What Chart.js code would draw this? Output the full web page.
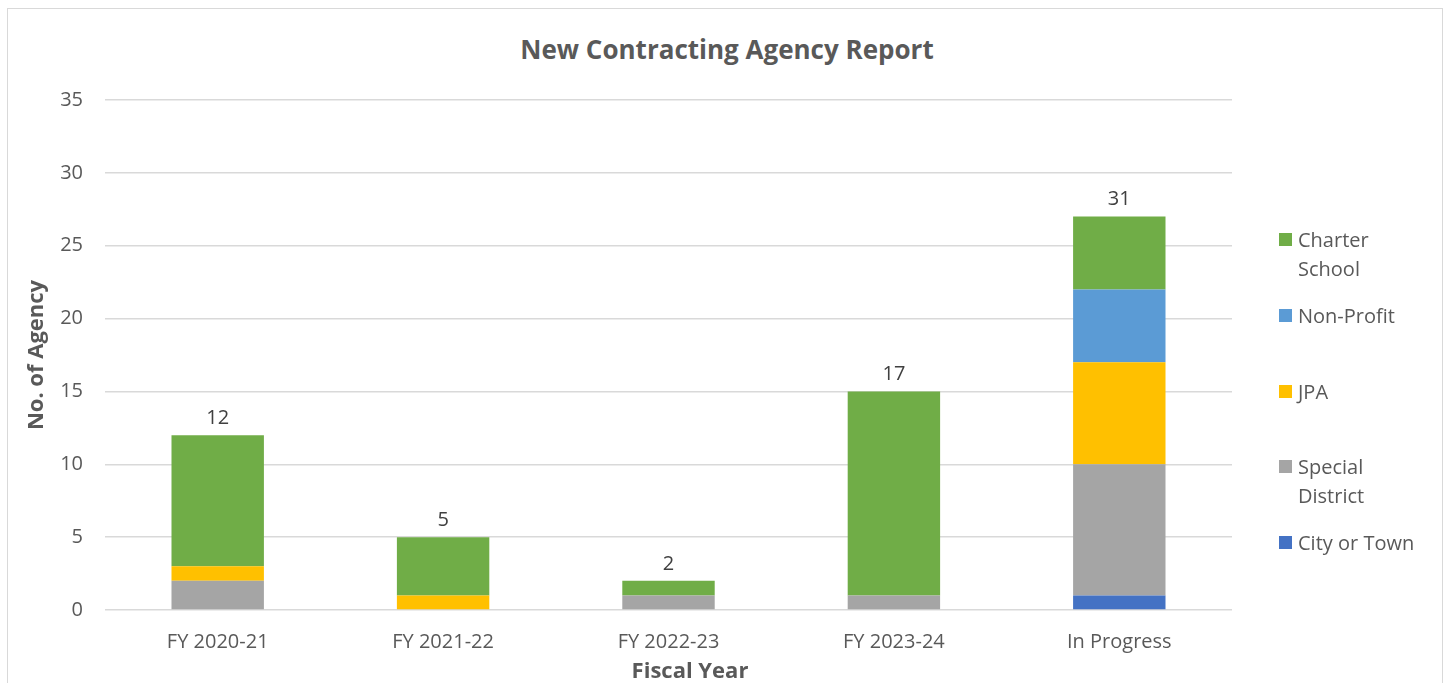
<!DOCTYPE html>
<html>
<head>
<meta charset="utf-8">
<script src="https://cdn.jsdelivr.net/npm/chart.js@4.4.1/dist/chart.umd.min.js"></script>
<style>
  body { margin: 0; background: #fff; font-family: "Open Sans", sans-serif; }
  #wrap { position: relative; width: 1450px; height: 683px; overflow: hidden; }
  #frame { position: absolute; left: 7px; top: 8px; width: 1436px; height: 700px; border: 1px solid #d9d9d9; box-sizing: border-box; }
  #chartTitle { position: absolute; left: 0; top: 32px; width: 1454px; text-align: center; font-size: 26px; font-weight: bold; color: #595959; line-height: 34px; }
  #xTitle { position: absolute; left: 490px; top: 654px; width: 400px; text-align: center; font-size: 22px; font-weight: bold; color: #595959; line-height: 30px; }
  .legend-item { position: absolute; left: 1279px; font-size: 20px; color: #595959; line-height: 29px; }
  .legend-item span.box { position: absolute; left: 0; top: 8px; width: 13px; height: 13px; }
  .legend-item span.txt { display: block; margin-left: 19px; }
  canvas { position: absolute; left: 0; top: 0; }
</style>
</head>
<body>
<div id="wrap">
  <div id="frame"></div>
  <div id="chartTitle">New Contracting Agency Report</div>
  <canvas id="agencyChart" width="1450" height="683"></canvas>
  <div id="xTitle">Fiscal Year</div>
  <div id="legend"></div>
</div>
<script>
const categories = ['FY 2020-21', 'FY 2021-22', 'FY 2022-23', 'FY 2023-24', 'In Progress'];
const cityOrTown = [0, 0, 0, 0, 1];
const specialDistrict = [2, 0, 1, 1, 9];
const jpa = [1, 1, 0, 0, 7];
const nonProfit = [0, 0, 0, 0, 5];
const charterSchool = [9, 4, 1, 14, 5];
// totals shown above each bar (as printed on the chart)
const totals = [12, 5, 2, 17, 31];
const yTicks = [0, 5, 10, 15, 20, 25, 30, 35];

const series = [
  { label: 'City or Town', data: cityOrTown, color: '#4472C4' },
  { label: 'Special District', data: specialDistrict, color: '#A5A5A5' },
  { label: 'JPA', data: jpa, color: '#FFC000' },
  { label: 'Non-Profit', data: nonProfit, color: '#5B9BD5' },
  { label: 'Charter School', data: charterSchool, color: '#70AD47' }
];

// legend on the right, top item = last series
const legendRows = [
  { s: series[4], lines: ['Charter', 'School'], top: 225 },
  { s: series[3], lines: ['Non-Profit'], top: 301 },
  { s: series[2], lines: ['JPA'], top: 377 },
  { s: series[1], lines: ['Special', 'District'], top: 452 },
  { s: series[0], lines: ['City or Town'], top: 528 }
];
const legendEl = document.getElementById('legend');
legendRows.forEach(row => {
  const item = document.createElement('div');
  item.className = 'legend-item';
  item.style.top = row.top + 'px';
  item.innerHTML = '<span class="box" style="background:' + row.s.color + '"></span><span class="txt">' + row.lines.join('<br>') + '</span>';
  legendEl.appendChild(item);
});

const totalLabels = {
  id: 'totalLabels',
  afterDatasetsDraw(chart) {
    const { ctx, scales } = chart;
    ctx.save();
    ctx.font = '20px "Open Sans"';
    ctx.fillStyle = '#404040';
    ctx.textAlign = 'center';
    ctx.textBaseline = 'middle';
    categories.forEach((c, i) => {
      let sum = 0;
      series.forEach(s => { sum += s.data[i]; });
      const x = scales.x.getPixelForValue(i);
      const y = scales.y.getPixelForValue(sum) - 17;
      ctx.fillText(String(totals[i]), x, y);
    });
    ctx.restore();
  }
};

const ctx = document.getElementById('agencyChart');
new Chart(ctx, {
  type: 'bar',
  data: {
    labels: categories,
    datasets: series.map(s => ({
      label: s.label,
      data: s.data,
      backgroundColor: s.color,
      borderWidth: 0,
      categoryPercentage: 1,
      barPercentage: 0.41
    }))
  },
  options: {
    responsive: false,
    animation: false,
    layout: { padding: { left: 0, right: 218, top: 100, bottom: 0 } },
    plugins: {
      legend: { display: false },
      title: { display: false },
      tooltip: { enabled: false }
    },
    scales: {
      x: {
        stacked: true,
        grid: { display: false },
        border: { display: false },
        ticks: { color: '#595959', font: { family: 'Open Sans', size: 20 }, padding: 12, maxRotation: 0 },
        afterFit(scale) { scale.height = 73; }
      },
      y: {
        stacked: true,
        min: 0,
        max: 35,
        afterBuildTicks(scale) { scale.ticks = yTicks.map(v => ({ value: v })); },
        grid: { color: '#d9d9d9', lineWidth: 1.5, drawTicks: false },
        border: { display: false },
        ticks: { color: '#595959', font: { family: 'Open Sans', size: 20 }, padding: 22 },
        title: { display: true, text: 'No. of Agency', color: '#595959', font: { family: 'Open Sans', size: 22, weight: 'bold' }, padding: { top: 24, bottom: 0 } },
        afterFit(scale) { scale.width = 105; }
      }
    }
  },
  plugins: [totalLabels]
});
</script>
</body>
</html>
